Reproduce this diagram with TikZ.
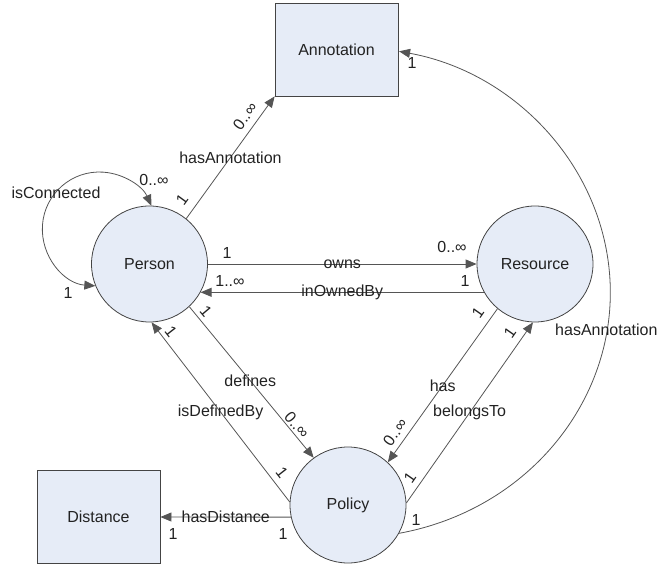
\documentclass[tikz,border=0pt]{standalone}
\usepackage{fontspec}
\setmainfont{Liberation Sans}
\usetikzlibrary{arrows.meta}
\definecolor{nodefill}{HTML}{E6ECF7}
\definecolor{edgecol}{HTML}{555555}
\definecolor{bordercol}{HTML}{444444}
\definecolor{txtcol}{HTML}{222222}
\begin{document}
\begin{tikzpicture}[x=1pt,y=1pt,
  >={Triangle[length=11pt,width=9pt]},
  every node/.style={font=\fontsize{16}{19}\selectfont, text=txtcol},
  entity/.style={circle, draw=bordercol, fill=nodefill, line width=0.8pt, minimum size=116pt, inner sep=0pt},
  box/.style={rectangle, draw=bordercol, fill=nodefill, line width=0.8pt, minimum width=123pt, minimum height=93pt, inner sep=0pt},
  rel/.style={draw=edgecol, line width=0.8pt, ->},
  birel/.style={draw=edgecol, line width=0.8pt, <->},
  lbl/.style={inner sep=0pt},
  card/.style={inner sep=0pt},
]
\useasboundingbox (0,0) rectangle (658,565);

% nodes
\node[box] (annot) at (336.5,515.5) {Annotation};
\node[box] (dist) at (98.5,48) {Distance};
\node[entity] (person) at (149.5,301) {Person};
\node[entity] (resource) at (535,301) {Resource};
\node[entity] (policy) at (348,60) {Policy};

% connectors
\draw[rel] (person.51) -- node[lbl] {hasAnnotation} (annot.south west);
\draw[birel] (person.202) arc[start angle=266, end angle=24, radius=57];
\draw[rel] (person.0) -- node[lbl] {owns} (resource.180);
\draw[rel] (resource.209) -- node[lbl] {inOwnedBy} (person.-29);
\draw[rel] (person.-47) -- node[lbl, pos=0.49] {defines} (policy.126);
\draw[rel] (policy.177) -- node[lbl] {isDefinedBy} (person.-88);
\draw[rel] (policy.192) -- node[lbl] {hasDistance} (dist.east);
\draw[rel] (resource.230) -- node[lbl] {has} (policy.47);
\draw[rel] (policy.2) -- node[lbl] {belongsTo} (resource.268);
\draw[rel] (policy.-29) arc[start angle=-79, end angle=79, x radius=261, y radius=245.5];

% labels and cardinalities
\node[lbl, anchor=west] (lblhasannot) at (555,235) {hasAnnotation};
\node[lbl] (lblconn) at (56,372) {isConnected};
\node[card, rotate=54] (c1) at (245,449) {0..∞};
\node[card, rotate=54] (c2) at (182,365) {1};
\node[card] (c3) at (154,385) {0..∞};
\node[card] (c4) at (68,272) {1};
\node[card] (c5) at (227,312) {1};
\node[card] (c6) at (452,318) {0..∞};
\node[card] (c7) at (230,284) {1..∞};
\node[card] (c8) at (465,284) {1};
\node[card, rotate=-50] (c9) at (206,254) {1};
\node[card, rotate=-50] (c10) at (297,140) {0..∞};
\node[card, rotate=-52] (c11) at (171,233) {1};
\node[card, rotate=-52] (c12) at (282,92) {1};
\node[card] (c13) at (173,31) {1};
\node[card] (c14) at (283,31) {1};
\node[card, rotate=55] (c15) at (478,252) {1};
\node[card, rotate=55] (c16) at (395,133) {0..∞};
\node[card, rotate=55] (c17) at (510,232) {1};
\node[card, rotate=55] (c18) at (410,87) {1};
\node[card] (c19) at (412,502) {1};
\node[card] (c20) at (416,45) {1};
\end{tikzpicture}
\end{document}
